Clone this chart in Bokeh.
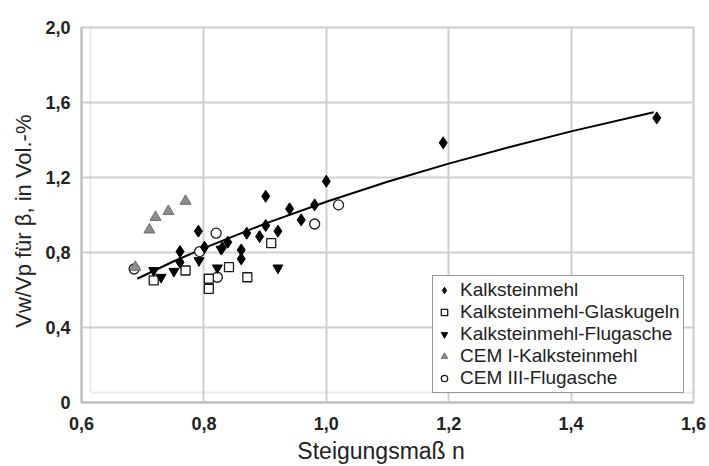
from bokeh.plotting import figure
from bokeh.models import (CustomJSTickFormatter, FixedTicker, Legend, LegendItem,
                          Range1d, BoxAnnotation)
from bokeh.embed import file_html
from bokeh.resources import INLINE

# ---------------- data ----------------
x_ticks = [0.6, 0.8, 1.0, 1.2, 1.4, 1.6]
x_tick_labels = ["0,6", "0,8", "1,0", "1,2", "1,4", "1,6"]
y_ticks = [0.0, 0.4, 0.8, 1.2, 1.6, 2.0]
y_tick_labels = ["0", "0,4", "0,8", "1,2", "1,6", "2,0"]

kalk_x = [0.761, 0.761, 0.791, 0.801, 0.830, 0.839, 0.861, 0.861, 0.870, 0.891,
          0.901, 0.901, 0.921, 0.940, 0.959, 0.981, 1.000, 1.191, 1.540]
kalk_y = [0.805, 0.748, 0.914, 0.828, 0.825, 0.855, 0.814, 0.766, 0.903, 0.885,
          1.100, 0.944, 0.914, 1.033, 0.974, 1.054, 1.180, 1.385, 1.518]

glas_x = [0.718, 0.770, 0.808, 0.808, 0.841, 0.871, 0.910]
glas_y = [0.651, 0.704, 0.660, 0.606, 0.722, 0.668, 0.850]

flug_x = [0.718, 0.730, 0.751, 0.792, 0.822, 0.828, 0.921]
flug_y = [0.704, 0.668, 0.700, 0.757, 0.718, 0.818, 0.718]

cem1_x = [0.688, 0.711, 0.721, 0.742, 0.770]
cem1_y = [0.722, 0.921, 0.988, 1.020, 1.074]

cem3_x = [0.686, 0.793, 0.820, 0.822, 0.981, 1.020]
cem3_y = [0.712, 0.805, 0.903, 0.668, 0.952, 1.054]

curve_x = [0.691, 0.75, 0.80, 0.90, 1.00, 1.10, 1.20, 1.30, 1.40, 1.535]
curve_y = [0.660, 0.752, 0.823, 0.954, 1.071, 1.177, 1.274, 1.363, 1.446, 1.548]

legend_labels = ["Kalksteinmehl", "Kalksteinmehl-Glaskugeln",
                 "Kalksteinmehl-Flugasche", "CEM I-Kalksteinmehl",
                 "CEM III-Flugasche"]

x_title = "Steigungsmaß n"
y_title = "Vw/Vp für β, in Vol.-%"

FONT = "Liberation Sans"
NBSP = "\u00a0"

p = figure(width=709, height=466, output_backend="svg", toolbar_location=None,
           x_range=Range1d(0.6, 1.6), y_range=Range1d(0.0, 2.0),
           min_border_left=81, min_border_right=16, min_border_top=27,
           min_border_bottom=64)

p.background_fill_color = "white"
p.border_fill_color = "white"
p.outline_line_color = "#cccccc"
p.outline_line_width = 2

for ax in (p.xaxis[0], p.yaxis[0]):
    ax.axis_line_color = "#bdbdbd"
    ax.axis_line_width = 2
    ax.major_tick_line_color = None
    ax.minor_tick_line_color = None
    ax.major_label_text_font = FONT
    ax.major_label_text_font_style = "bold"
    ax.major_label_text_font_size = "18px"
    ax.major_label_text_color = "#222222"
    ax.axis_label_text_font = FONT
    ax.axis_label_text_font_style = "normal"
    ax.axis_label_text_color = "#222222"

p.xaxis.axis_label_text_font_size = "23px"
p.yaxis.axis_label_text_font_size = "22px"

p.xaxis.ticker = FixedTicker(ticks=x_ticks)
p.yaxis.ticker = FixedTicker(ticks=y_ticks)
code = """
const i = tvals.findIndex(t => Math.abs(t - tick) < 1e-9);
return i >= 0 ? tlabels[i] : tick.toString();
"""
p.xaxis.formatter = CustomJSTickFormatter(args=dict(tvals=x_ticks, tlabels=x_tick_labels), code=code)
p.yaxis.formatter = CustomJSTickFormatter(args=dict(tvals=y_ticks, tlabels=y_tick_labels), code=code)
p.xaxis.major_label_standoff = 8
p.yaxis.major_label_standoff = 5
p.xaxis.axis_label_standoff = 5
p.yaxis.axis_label_standoff = 6
# trailing no-break spaces shift the centred titles slightly, as in the original
p.xaxis.axis_label = x_title + NBSP * 2
p.yaxis.axis_label = y_title + NBSP * 2

p.xgrid.grid_line_color = "#cfcfcf"
p.ygrid.grid_line_color = "#cfcfcf"
p.xgrid.grid_line_width = 2
p.ygrid.grid_line_width = 2

# outer frame of the figure
p.add_layout(BoxAnnotation(left=9, right=760, top=10, bottom=520,
                           left_units="screen", right_units="screen",
                           top_units="screen", bottom_units="screen",
                           fill_alpha=0, line_color="#bbbbbb", line_width=2))

p.line(curve_x, curve_y, line_color="black", line_width=2)

r_cem3 = p.scatter(cem3_x, cem3_y, marker="circle", size=10,
                   fill_color="white", line_color="#1a1a1a", line_width=1.3)
r_glas = p.scatter(glas_x, glas_y, marker="square", size=9,
                   fill_color="white", line_color="#1a1a1a", line_width=1.3)
r_cem1 = p.scatter(cem1_x, cem1_y, marker="triangle", size=11,
                   fill_color="#8c8c8c", line_color="#6e6e6e", line_width=1)
r_flug = p.scatter(flug_x, flug_y, marker="inverted_triangle", size=10,
                   fill_color="black", line_color="black")
r_kalk = p.scatter(kalk_x, kalk_y, marker="diamond", size=12,
                   fill_color="black", line_color="black")

renderers = [r_kalk, r_glas, r_flug, r_cem1, r_cem3]
legend = Legend(items=[LegendItem(label=l, renderers=[r]) for l, r in zip(legend_labels, renderers)],
                location=(351, 9))
legend.label_text_font = FONT
legend.label_text_font_size = "19px"
legend.label_text_color = "#222222"
legend.border_line_color = "#333333"
legend.border_line_width = 1.5
legend.background_fill_color = "white"
legend.background_fill_alpha = 1.0
legend.padding = 3
legend.margin = 0
legend.spacing = 0
legend.glyph_height = 20
legend.glyph_width = 16
legend.label_height = 20
legend.label_standoff = 8
p.add_layout(legend)

open("out.html", "w").write(file_html(p, INLINE))
